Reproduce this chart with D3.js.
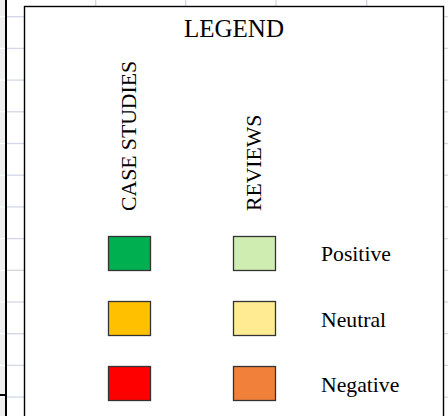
<!DOCTYPE html>
<html>
<head>
<meta charset="utf-8">
<script src="https://cdn.jsdelivr.net/npm/d3@7"></script>
<style>
  html, body { margin: 0; padding: 0; background: #fff; }
  svg { display: block; }
  text { font-family: "Liberation Serif", "Times New Roman", serif; fill: #000; }
</style>
</head>
<body>
<div id="chart"></div>
<script>
// ---- data ----
const title = "LEGEND";
const series = ["CASE STUDIES", "REVIEWS"];
const categories = ["Positive", "Neutral", "Negative"];
const caseStudyColors = ["#00B050", "#FFC000", "#FF0000"];
const reviewColors = ["#CFEDB0", "#FFEB91", "#F0803A"];
const colorsBySeries = [caseStudyColors, reviewColors];

const W = 448, H = 416;
const svg = d3.select("#chart").append("svg").attr("width", W).attr("height", H);

// ---- spreadsheet background ----
const gridColor = "#D0D7E5";
const rowY = d3.range(13).map(i => 16.7 + i * 31.7);
const colX = [95.7, 185.7, 276, 366.7];

svg.append("rect").attr("x", 0).attr("y", 0).attr("width", 5).attr("height", H).attr("fill", "#EEEEEE");
svg.selectAll("line.hdr").data(rowY).join("line")
  .attr("x1", 0).attr("x2", 5).attr("y1", d => d).attr("y2", d => d)
  .attr("stroke", "#fff").attr("stroke-width", 1);
svg.selectAll("line.rowL").data(rowY).join("line")
  .attr("x1", 7).attr("x2", 24).attr("y1", d => d).attr("y2", d => d)
  .attr("stroke", gridColor).attr("stroke-width", 1.3);
svg.selectAll("line.rowR").data(rowY).join("line")
  .attr("x1", 444).attr("x2", W).attr("y1", d => d).attr("y2", d => d)
  .attr("stroke", gridColor).attr("stroke-width", 1.3);
svg.selectAll("line.colT").data(colX).join("line")
  .attr("x1", d => d).attr("x2", d => d).attr("y1", 0).attr("y2", 6)
  .attr("stroke", gridColor).attr("stroke-width", 1.3);
svg.append("line").attr("x1", 6).attr("x2", 6).attr("y1", 0).attr("y2", H)
  .attr("stroke", "#000").attr("stroke-width", 2);
svg.append("line").attr("x1", 0).attr("x2", 6).attr("y1", 395).attr("y2", 395)
  .attr("stroke", "#000").attr("stroke-width", 2);

// ---- legend box ----
svg.append("rect").attr("x", 24.5).attr("y", 6.5).attr("width", 419).attr("height", H + 20)
  .attr("fill", "#fff").attr("stroke", "#000").attr("stroke-width", 1.4);

svg.append("text").attr("x", 234).attr("y", 37).attr("text-anchor", "middle")
  .attr("font-size", 25).text(title);

// scales
const xCol = d3.scaleBand().domain(series).range([108, 275]).paddingInner(0.664).paddingOuter(0);
const yRow = d3.scaleBand().domain(categories).range([236, 400]).paddingInner(0.477).paddingOuter(0);

svg.selectAll("text.series").data(series).join("text")
  .attr("class", "series")
  .attr("transform", d => `translate(${xCol(d) + xCol.bandwidth() / 2 + 7},211) rotate(-90)`)
  .attr("font-size", 21.7).text(d => d);

series.forEach((s, si) => {
  categories.forEach((c, ci) => {
    svg.append("rect")
      .attr("x", xCol(s) + 0.5).attr("y", yRow(c) + 0.5)
      .attr("width", xCol.bandwidth()).attr("height", yRow.bandwidth())
      .attr("fill", colorsBySeries[si][ci])
      .attr("stroke", "#333").attr("stroke-width", 1.3);
  });
});

svg.selectAll("text.cat").data(categories).join("text")
  .attr("class", "cat")
  .attr("x", 321).attr("y", d => yRow(d) + yRow.bandwidth() / 2 + 8.5)
  .attr("font-size", 21.7).text(d => d);
</script>
</body>
</html>
